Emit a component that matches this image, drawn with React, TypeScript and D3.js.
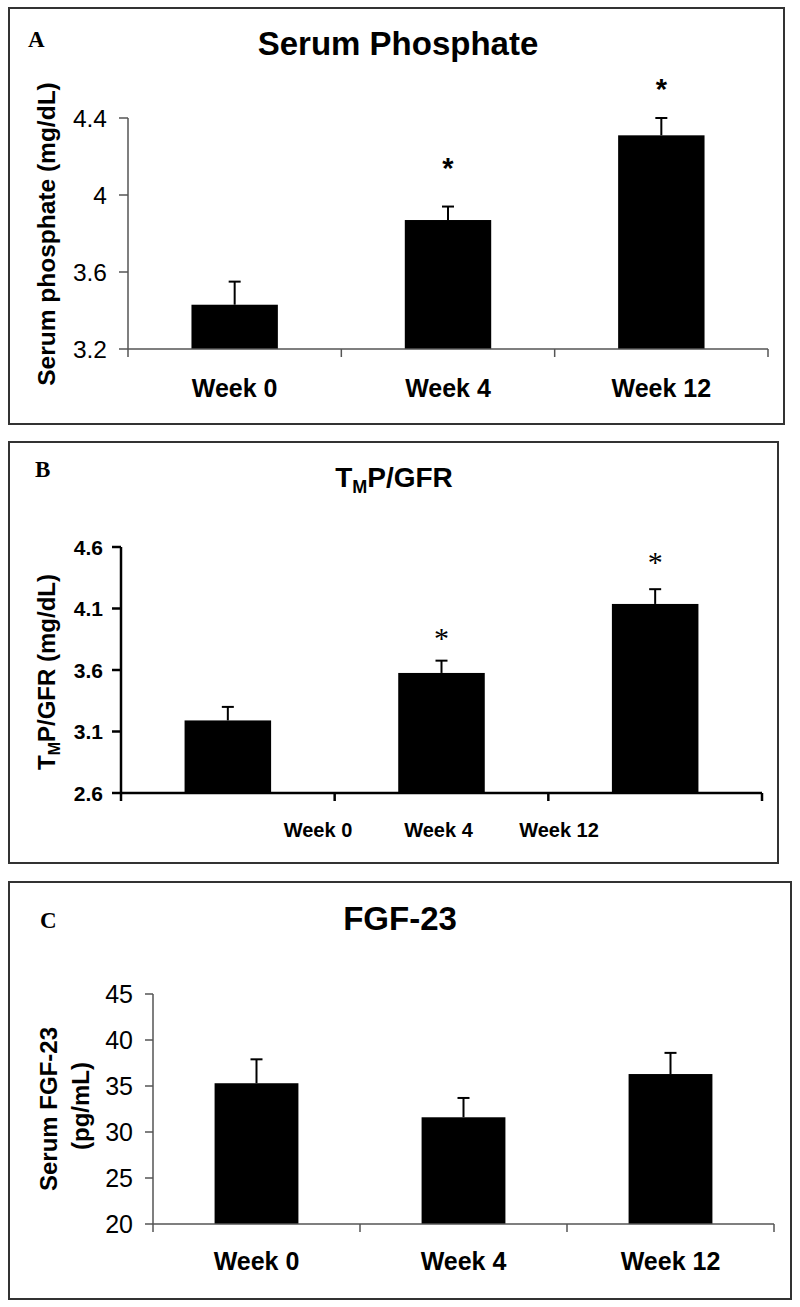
import React from "react";
import * as d3 from "d3";

// ---------- data ----------
const weeks = ["Week 0", "Week 4", "Week 12"];

const phosphateMeans = [3.43, 3.87, 4.31];
const phosphateErrors = [0.12, 0.07, 0.09];
const phosphateStars = [null, 4.17, 4.58];
const phosphateTicks = [3.2, 3.6, 4.0, 4.4];

const tmpMeans = [3.19, 3.576, 4.137];
const tmpErrors = [0.11, 0.1, 0.12];
const tmpStars = [null, 3.91, 4.53];
const tmpTicks = [2.6, 3.1, 3.6, 4.1, 4.6];

const fgfMeans = [35.3, 31.6, 36.3];
const fgfErrors = [2.6, 2.1, 2.3];
const fgfTicks = [20, 25, 30, 35, 40, 45];

const SANS = "Arial, 'Liberation Sans', Helvetica, sans-serif";
const SERIF = "'Times New Roman', 'Liberation Serif', serif";

type PanelProps = {
  box: [number, number, number, number];
  x0: number;
  x1: number;
  yTop: number;
  yBottom: number;
  domain: [number, number];
  ticks: number[];
  tickFmt: (v: number) => string;
  tickFont: { size: number; weight: string };
  tickLabelRight: number;
  tickLen: number;
  means: number[];
  errors: number[];
  stars: (number | null)[];
  starStyle: { font: string; size: number; weight: string; dy: number };
  axisColor: string;
  axisWidth: number;
  xLabelY: number;
  xLabelSize: number;
  xLabelRange?: [number, number];
  letter: string;
  letterX: number;
  letterY: number;
  letterSize: number;
  title: React.ReactNode;
  titleX: number;
  titleY: number;
  titleSize: number;
  yLabel: React.ReactNode;
};

function Panel(p: PanelProps) {
  const x = d3.scaleBand<string>().domain(weeks).range([p.x0, p.x1]).padding(0);
  const y = d3.scaleLinear().domain(p.domain).range([p.yBottom, p.yTop]);
  const bw = x.bandwidth();
  const barW = bw * 0.405;
  const labelX = p.xLabelRange
    ? d3.scalePoint<string>().domain(weeks).range(p.xLabelRange)
    : (c: string) => (x(c) as number) + bw / 2;
  const edges = [p.x0, ...weeks.map((c) => (x(c) as number) + bw)];
  const [bx0, by0, bx1, by1] = p.box;
  return (
    <g>
      <rect x={bx0} y={by0} width={bx1 - bx0} height={by1 - by0} fill="#fff" stroke="#333" strokeWidth={2} />
      <text x={p.letterX} y={p.letterY} fontFamily={SERIF} fontWeight="bold" fontSize={p.letterSize}>
        {p.letter}
      </text>
      <text x={p.titleX} y={p.titleY} textAnchor="middle" fontFamily={SANS} fontWeight="bold" fontSize={p.titleSize}>
        {p.title}
      </text>
      {p.yLabel}
      {/* bars */}
      {weeks.map((c, i) => {
        const cx = (x(c) as number) + bw / 2;
        const top = y(p.means[i]);
        const cap = y(p.means[i] + p.errors[i]);
        return (
          <g key={c}>
            <rect x={cx - barW / 2} y={top} width={barW} height={p.yBottom - top} fill="#000" />
            <line x1={cx} x2={cx} y1={top} y2={cap} stroke="#000" strokeWidth={2} />
            <line x1={cx - 6} x2={cx + 6} y1={cap} y2={cap} stroke="#000" strokeWidth={2} />
            {p.stars[i] != null && (
              <text
                x={cx}
                y={y(p.stars[i] as number) + p.starStyle.dy}
                textAnchor="middle"
                fontFamily={p.starStyle.font}
                fontWeight={p.starStyle.weight}
                fontSize={p.starStyle.size}
              >
                *
              </text>
            )}
          </g>
        );
      })}
      {/* y axis */}
      <line x1={p.x0} x2={p.x0} y1={p.yTop} y2={p.yBottom} stroke={p.axisColor} strokeWidth={p.axisWidth} />
      {p.ticks.map((t) => (
        <g key={t}>
          <line x1={p.x0 - p.tickLen} x2={p.x0} y1={y(t)} y2={y(t)} stroke={p.axisColor} strokeWidth={p.axisWidth} />
          <text
            x={p.tickLabelRight}
            y={y(t)}
            dy="0.36em"
            textAnchor="end"
            fontFamily={SANS}
            fontSize={p.tickFont.size}
            fontWeight={p.tickFont.weight}
          >
            {p.tickFmt(t)}
          </text>
        </g>
      ))}
      {/* x axis */}
      <line x1={p.x0} x2={p.x1} y1={p.yBottom} y2={p.yBottom} stroke={p.axisColor} strokeWidth={p.axisWidth} />
      {edges.map((e, i) => (
        <line key={i} x1={e} x2={e} y1={p.yBottom} y2={p.yBottom + 8} stroke={p.axisColor} strokeWidth={p.axisWidth} />
      ))}
      {weeks.map((c) => (
        <text
          key={c}
          x={labelX(c) as number}
          y={p.xLabelY}
          textAnchor="middle"
          fontFamily={SANS}
          fontWeight="bold"
          fontSize={p.xLabelSize}
        >
          {c}
        </text>
      ))}
    </g>
  );
}

export default function App() {
  return (
    <svg
      width={800}
      height={1307}
      viewBox="0 0 800 1307"
      style={{ position: "absolute", left: 0, top: 0, background: "#fff" }}
    >
      <rect x={0} y={0} width={800} height={1307} fill="#fff" />
      <Panel
        box={[9, 8, 784, 424]}
        x0={128}
        x1={768}
        yTop={118}
        yBottom={349}
        domain={[3.2, 4.4]}
        ticks={phosphateTicks}
        tickFmt={(v) => d3.format("~g")(v)}
        tickFont={{ size: 24.5, weight: "normal" }}
        tickLabelRight={107}
        tickLen={9}
        means={phosphateMeans}
        errors={phosphateErrors}
        stars={phosphateStars}
        starStyle={{ font: SANS, size: 29, weight: "bold", dy: 16 }}
        axisColor="#555"
        axisWidth={1.5}
        xLabelY={397}
        xLabelSize={25}
        letter="A"
        letterX={28}
        letterY={47}
        letterSize={23}
        title="Serum Phosphate"
        titleX={398}
        titleY={55}
        titleSize={33}
        yLabel={
          <text
            transform="translate(55,234) rotate(-90)"
            textAnchor="middle"
            fontFamily={SANS}
            fontWeight="bold"
            fontSize={24.5}
          >
            Serum phosphate (mg/dL)
          </text>
        }
      />
      <Panel
        box={[9, 442, 778, 863]}
        x0={121}
        x1={762}
        yTop={547}
        yBottom={793}
        domain={[2.6, 4.6]}
        ticks={tmpTicks}
        tickFmt={(v) => d3.format(".1f")(v)}
        tickFont={{ size: 21, weight: "bold" }}
        tickLabelRight={103}
        tickLen={9}
        means={tmpMeans}
        errors={tmpErrors}
        stars={tmpStars}
        starStyle={{ font: SERIF, size: 30, weight: "normal", dy: 16 }}
        axisColor="#000"
        axisWidth={2.5}
        xLabelY={837}
        xLabelSize={20}
        xLabelRange={[318, 559]}
        letter="B"
        letterX={35}
        letterY={477}
        letterSize={23}
        title={
          <>
            T<tspan fontSize={18} dy={6}>M</tspan>
            <tspan dy={-6}>P/GFR</tspan>
          </>
        }
        titleX={394}
        titleY={487}
        titleSize={28}
        yLabel={
          <text
            transform="translate(55,672) rotate(-90)"
            textAnchor="middle"
            fontFamily={SANS}
            fontWeight="bold"
            fontSize={24}
          >
            T<tspan fontSize={16} dy={5}>M</tspan>
            <tspan dy={-5}>P/GFR (mg/dL)</tspan>
          </text>
        }
      />
      <Panel
        box={[9, 882, 791, 1299]}
        x0={153}
        x1={774}
        yTop={994}
        yBottom={1224}
        domain={[20, 45]}
        ticks={fgfTicks}
        tickFmt={(v) => d3.format("d")(v)}
        tickFont={{ size: 25, weight: "normal" }}
        tickLabelRight={133}
        tickLen={8}
        means={fgfMeans}
        errors={fgfErrors}
        stars={[null, null, null]}
        starStyle={{ font: SANS, size: 28, weight: "bold", dy: 16 }}
        axisColor="#555"
        axisWidth={1.5}
        xLabelY={1270}
        xLabelSize={25}
        letter="C"
        letterX={40}
        letterY={928}
        letterSize={23}
        title="FGF-23"
        titleX={400}
        titleY={930}
        titleSize={33}
        yLabel={
          <g>
            <text
              transform="translate(57,1109) rotate(-90)"
              textAnchor="middle"
              fontFamily={SANS}
              fontWeight="bold"
              fontSize={24}
            >
              Serum FGF-23
            </text>
            <text
              transform="translate(89,1106) rotate(-90)"
              textAnchor="middle"
              fontFamily={SANS}
              fontWeight="bold"
              fontSize={24}
            >
              (pg/mL)
            </text>
          </g>
        }
      />
    </svg>
  );
}
